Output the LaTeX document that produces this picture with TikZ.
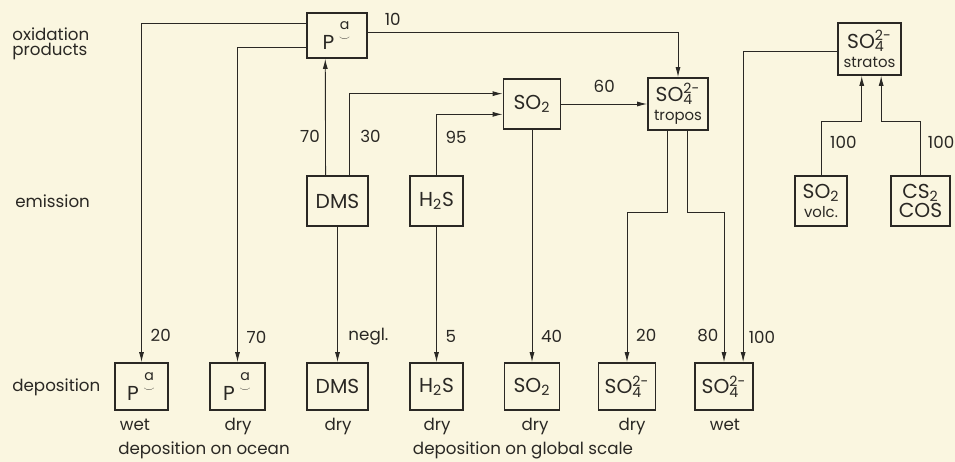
\documentclass[tikz,border=0pt]{standalone}
\usepackage{amsmath}
\usepackage{fontspec}
\setmainfont{Poppins}
\usetikzlibrary{positioning, arrows.meta, calc}

\definecolor{paper}{RGB}{250,246,224}
\definecolor{ink}{RGB}{42,40,36}

\newcommand{\sulfate}{SO\rlap{\textsubscript{4}}\textsuperscript{2-}}
\newcommand{\partox}{P\hspace{2.5pt}\raisebox{2.5pt}{\textsuperscript{$\underset{\raisebox{-1.5pt}{$\scriptscriptstyle\smile$}}{\text{a}}$}}}
\newcommand{\subsz}{\fontsize{8.5}{9}\selectfont}

\begin{document}
\begin{tikzpicture}[x=0.02cm, y=-0.02cm,
    % Node styles
    box/.style={draw=ink, line width=1pt, text=ink, inner sep=0pt, align=center,
        font=\fontsize{11.5}{11}\selectfont, minimum height=1cm},
    lbl/.style={text=ink, inner sep=1pt, font=\fontsize{9.5}{10}\selectfont},
    note/.style={text=ink, inner sep=0pt, anchor=base, align=left, font=\fontsize{9.5}{8.5}\selectfont},
    % Edge styles
    flow/.style={draw=ink, line width=0.5pt, -{Latex[length=2mm, width=1mm]}}
]
\useasboundingbox (0,0) rectangle (955,462);
\fill[paper] (0,0) rectangle (955,462);
% Row labels
\node[note, anchor=base west] (rowox) at (12,55.5) {oxidation\\products};
\node[note, anchor=base west] (rowem) at (15,208) {emission};
\node[note, anchor=base west] (rowdep) at (12,391) {deposition};
% Oxidation products
\node[box, minimum width=1.2cm, minimum height=0.9cm] (pa) at (337,35.5) {\partox};
\node[box, minimum width=1.14cm] (so2) at (532,104) {SO\textsubscript{2}};
\node[box, minimum width=1.2cm, minimum height=1.04cm] (so4t) at (678,104) {\sulfate\\{\subsz tropos}};
\node[box, minimum width=1.26cm, minimum height=1.04cm] (so4s) at (869.5,49) {\sulfate\\{\subsz stratos}};
% Emission nodes
\node[box, minimum width=1.22cm] (dms) at (337.5,201) {DMS};
\node[box, minimum width=1.06cm] (h2s) at (436.5,201) {H\textsubscript{2}S};
\node[box, minimum width=1.04cm] (volc) at (821,201) {SO\textsubscript{2}\\{\subsz volc.}};
\node[box, minimum width=1.18cm] (cs) at (920.5,201) {CS\textsubscript{2}\\COS};
% Deposition nodes
\node[box, minimum width=1.06cm, minimum height=0.94cm] (dpw) at (141.5,386.5) {\partox};
\node[box, minimum width=1.1cm, minimum height=0.94cm] (dpd) at (237.5,386.5) {\partox};
\node[box, minimum width=1.22cm, minimum height=0.94cm] (ddms) at (337.5,386.5) {DMS};
\node[box, minimum width=1.06cm, minimum height=0.94cm] (dh2s) at (436.5,386.5) {H\textsubscript{2}S};
\node[box, minimum width=1.1cm, minimum height=0.94cm] (dso2) at (532,386.5) {SO\textsubscript{2}};
\node[box, minimum width=1.14cm, minimum height=0.94cm] (dsod) at (627,386.5) {\sulfate};
\node[box, minimum width=1.16cm, minimum height=0.94cm] (dsow) at (724,386.5) {\sulfate};
% Deposition kind
\node[note] (kpw) at (135,430) {wet};
\node[note] (kpd) at (238,430) {dry};
\node[note] (kdms) at (338,430) {dry};
\node[note] (kh2s) at (437,430) {dry};
\node[note] (kso2) at (535,430) {dry};
\node[note] (kd) at (632,430) {dry};
\node[note] (kw) at (725,430) {wet};
\node[note] (ocean) at (204,454) {deposition on ocean};
\node[note] (globe) at (523,454) {deposition on global scale};
% Fluxes from oxidation products
\draw[flow] ($(pa.north west)!0.24!(pa.south west)$) -| (dpw.north) node[lbl, right=4pt, pos=0.96] {20};
\draw[flow] ($(pa.north west)!0.76!(pa.south west)$) -| (dpd.north) node[lbl, right=4pt, pos=0.96] {70};
\draw[flow] ($(pa.north east)!0.44!(pa.south east)$) -| (so4t.north) node[lbl, above=3pt, pos=0.04] {10};
% Emission fluxes
\draw[flow] ($(dms.north west)!0.31!(dms.north east)$) -- ($(pa.south west)!0.31!(pa.south east)$) node[lbl, left=2pt, pos=0.33] {70};
\draw[flow] ($(dms.north west)!0.69!(dms.north east)$) |- ($(so2.north west)!0.3!(so2.south west)$) node[lbl, right=5pt, pos=0.24] {30};
\draw[flow] (h2s.north) |- ($(so2.north west)!0.7!(so2.south west)$) node[lbl, right=4pt, pos=0.31] {95};
\draw[flow] (so2.east) -- (so4t.west) node[lbl, above=5pt, midway] {60};
\draw[flow] (volc.north) -- ++(0,-54) node[lbl, right=4pt, pos=0.6] {100} -| ($(so4s.south west)!0.38!(so4s.south east)$);
\draw[flow] (cs.north) -- ++(0,-54) node[lbl, right=3pt, pos=0.6] {100} -| ($(so4s.south west)!0.68!(so4s.south east)$);
% Deposition fluxes
\draw[flow] (dms) -- (ddms) node[lbl, right=5pt, pos=0.81] {negl.};
\draw[flow] (h2s) -- (dh2s) node[lbl, right=4pt, pos=0.81] {5};
\draw[flow] (so2) -- (dso2) node[lbl, right=4pt, pos=0.89] {40};
\draw[flow] ($(so4t.south west)!0.33!(so4t.south east)$) -- ++(0,82) -| (dsod.north) node[lbl, right=4pt, pos=0.91] {20};
\draw[flow] ($(so4t.south west)!0.65!(so4t.south east)$) -- ++(0,82) -| ($(dsow.north west)!0.5!(dsow.north east)$) node[lbl, left=2pt, pos=0.91] {80};
\draw[flow] ($(so4s.north west)!0.54!(so4s.south west)$) -| ($(dsow.north west)!0.82!(dsow.north east)$) node[lbl, right=2pt, pos=0.96] {100};
\end{tikzpicture}
\end{document}
